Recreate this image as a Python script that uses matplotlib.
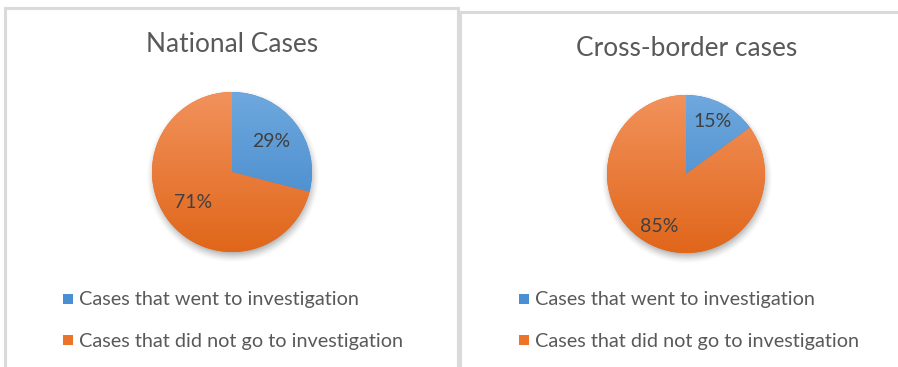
import numpy as np
import matplotlib
matplotlib.use("Agg")
import matplotlib.pyplot as plt
from matplotlib.patches import Rectangle
from matplotlib.colors import to_rgb

plt.rcParams['font.family'] = ['Lato', 'DejaVu Sans']

W, H = 898, 367

titles = ["National Cases", "Cross-border cases"]
categories = ["Cases that went to investigation", "Cases that did not go to investigation"]
national = [29, 71]
cross_border = [15, 85]

# top / bottom shades for the gradient fill of each slice
blue_top, blue_bot = "#6EA8DE", "#3E84C8"
orange_top, orange_bot = "#F2925C", "#E0661A"
legend_colors = ["#4A8FD3", "#EC7428"]

fig = plt.figure(figsize=(W / 100, H / 100), dpi=100)
ax = fig.add_axes([0, 0, 1, 1])


def py(y):
    # pixel row (from top) -> data y
    return H - y


def shadow(cx, cy, r):
    ys, xs = np.mgrid[0:H, 0:W] + 0.5
    d = np.hypot(xs - (cx + 1), ys - (cy + 4))
    blur = 7.0
    a = np.clip((r + blur - d) / (2 * blur), 0, 1) ** 1.5 * 0.55
    img = np.zeros((H, W, 4))
    img[..., :3] = 0.2
    img[..., 3] = a
    ax.imshow(img, extent=(0, W, 0, H), origin="upper", zorder=1, interpolation="bilinear")


def gradient_fill(wedge, cx, cy, r, top, bot):
    t = np.linspace(0, 1, 256)[:, None]
    c0, c1 = np.array(to_rgb(top)), np.array(to_rgb(bot))
    img = c0 + (c1 - c0) * t[..., None]
    img = np.repeat(img, 2, axis=1)
    im = ax.imshow(img, extent=(cx - r, cx + r, py(cy + r), py(cy - r)),
                   origin="upper", zorder=3, interpolation="bilinear")
    im.set_clip_path(wedge)


panels = [
    dict(data=national, cx=232, cy=172, r=80, pct=0.62, title_x=232, title_y=45,
         leg_x=63, box=(5, 8, 453)),
    dict(data=cross_border, cx=686, cy=174, r=79, pct=0.74, title_x=687, title_y=49,
         leg_x=519, box=(460, 12, 460)),
]

for p, title in zip(panels, titles):
    bx, by, bw = p["box"]
    ax.add_patch(Rectangle((bx, py(H + 5)), bw, H + 5 - by, facecolor="white",
                           edgecolor="#DADADA", linewidth=2.2, zorder=0))
    cx, cy, r = p["cx"], p["cy"], p["r"]
    shadow(cx, cy, r)
    wedges, _, autotexts = ax.pie(
        p["data"], colors=[blue_bot, orange_bot], startangle=90, counterclock=False,
        center=(cx, py(cy)), radius=r, autopct="%d%%", pctdistance=p["pct"],
        wedgeprops=dict(linewidth=0), textprops=dict(color="#404040", fontsize=14))
    for w in wedges:
        w.set_zorder(2)
    gradient_fill(wedges[0], cx, cy, r, blue_top, blue_bot)
    gradient_fill(wedges[1], cx, cy, r, orange_top, orange_bot)
    for t in autotexts:
        t.set_zorder(5)
    ax.text(p["title_x"], py(p["title_y"]), title, ha="center", va="center",
            fontsize=18.9, color="#595959")
    for i, (lab, col) in enumerate(zip(categories, legend_colors)):
        yy = 299 + i * 41
        ax.add_patch(Rectangle((p["leg_x"], py(yy + 5)), 10, 10, facecolor=col,
                               edgecolor="none", zorder=4))
        ax.text(p["leg_x"] + 16, py(yy + 1), lab, ha="left", va="center",
                fontsize=14.3, color="#595959")

ax.set_xlim(0, W)
ax.set_ylim(0, H)
ax.set_axis_off()

fig.savefig("out.png", dpi=100)
